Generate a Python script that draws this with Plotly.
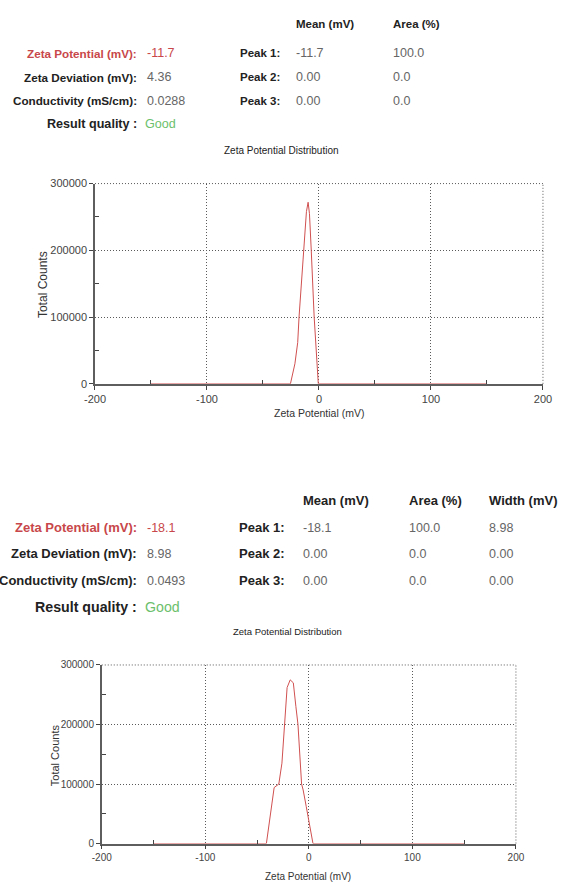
import plotly.graph_objects as go

W, H = 579, 888

# ---------------- data ----------------
# Measurement 1
x1 = [-150, -25.5, -21.5, -19.0, -17.8, -14.0, -11.2, -9.7, -8.5, -6.9, -4.3, -0.6, 150]
y1 = [0, 0, 30000, 62000, 100000, 200000, 258000, 272000, 255000, 200000, 100000, 0, 0]
# Measurement 2
x2 = [-150, -41.0, -33.5, -29.0, -26.0, -21.0, -18.0, -15.0, -12.5, -10.5, -7.0, -5.5, -2.5, 4.0, 150]
y2 = [0, 0, 94000, 100000, 135000, 262000, 275000, 270000, 230000, 200000, 100000, 90000, 62000, 0, 0]

summary1 = {"zeta": "-11.7", "dev": "4.36", "cond": "0.0288"}
summary2 = {"zeta": "-18.1", "dev": "8.98", "cond": "0.0493"}
peak_labels = ["Peak 1:", "Peak 2:", "Peak 3:"]
peak_mean1 = ["-11.7", "0.00", "0.00"]
peak_area1 = ["100.0", "0.0", "0.0"]
peak_mean2 = ["-18.1", "0.00", "0.00"]
peak_area2 = ["100.0", "0.0", "0.0"]
peak_width2 = ["8.98", "0.00", "0.00"]

x_ticks = [-200, -100, 0, 100, 200]
y_ticks = [0, 100000, 200000, 300000]

FONT = "Liberation Sans, Arial, sans-serif"
RED = "#c8474a"
LINE = "#d05050"
GREEN = "#6cbf6c"
GRAY = "#666666"
DARK = "#222222"
GRID = "#5a5a5a"
GDASH = "1px,2px"


def px(x):
    return x / W


def py(y):
    return 1 - y / H


fig = go.Figure()
fig.add_trace(go.Scatter(x=x1, y=y1, mode="lines", line=dict(color=LINE, width=1),
                         xaxis="x", yaxis="y", showlegend=False))
fig.add_trace(go.Scatter(x=x2, y=y2, mode="lines", line=dict(color=LINE, width=1),
                         xaxis="x2", yaxis="y2", showlegend=False))

annots = []


def txt(x, y, s, size, color=DARK, anchor="left", bold=False, angle=0):
    if bold:
        s = "<b>" + s + "</b>"
    annots.append(dict(x=px(x), y=py(y), xref="paper", yref="paper", text=s,
                       showarrow=False, xanchor=anchor, yanchor="middle",
                       textangle=angle,
                       font=dict(family=FONT, size=size, color=color)))


def header(rows, lab_size, val_size, res_size, s, means, areas, widths,
           peak_right, mean_x, area_x, width_x, head_y, hsize):
    labels = [("Zeta Potential (mV):", s["zeta"], RED, RED),
              ("Zeta Deviation (mV):", s["dev"], DARK, GRAY),
              ("Conductivity (mS/cm):", s["cond"], DARK, GRAY)]
    for (lab, val, lc, vc), yy in zip(labels, rows[:3]):
        txt(133, yy, lab, lab_size, lc, "right", bold=True)
        txt(139, yy, val, val_size, vc, "left")
    txt(133, rows[3], "Result quality :", res_size, DARK, "right", bold=True)
    txt(137, rows[3], "Good", res_size, GREEN, "left")
    txt(mean_x, head_y, "Mean (mV)", hsize, DARK, "left", bold=True)
    txt(area_x, head_y, "Area (%)", hsize, DARK, "left", bold=True)
    if widths is not None:
        txt(width_x, head_y, "Width (mV)", hsize, DARK, "left", bold=True)
    for i, yy in enumerate(rows[:3]):
        txt(peak_right, yy, peak_labels[i], hsize, DARK, "right", bold=True)
        txt(mean_x, yy, means[i], val_size, GRAY, "left")
        txt(area_x, yy, areas[i], val_size, GRAY, "left")
        if widths is not None:
            txt(width_x, yy, widths[i], val_size, GRAY, "left")


header([48, 72, 96, 120], 11.7, 12.5, 12.6, summary1, peak_mean1, peak_area1, None,
       281, 293, 394, None, 18, 11.5)
header([529, 555.5, 582.5, 609], 13, 12.5, 14.2, summary2, peak_mean2, peak_area2,
       peak_width2, 286, 300, 410, 493, 501, 13)

# chart titles
txt(280, 146, "Zeta Potential Distribution", 10, DARK, "center")
txt(286, 634, "Zeta Potential Distribution", 9.5, DARK, "center")
# axis titles
txt(33, 282, "Total Counts", 12, "#333", "center", angle=-90)
txt(319, 413, "Zeta Potential (mV)", 10.5, "#333", "center")
txt(45, 759, "Total Counts", 11, "#333", "center", angle=-90)
txt(308, 882, "Zeta Potential (mV)", 10, "#333", "center")


def xax(domain, anchor, fsize):
    return dict(domain=domain, anchor=anchor, range=[-200, 200],
                tickmode="array", tickvals=x_ticks, ticktext=[str(v) for v in x_ticks],
                showgrid=True, gridcolor=GRID, griddash=GDASH, gridwidth=1,
                zeroline=False, showline=True, linecolor="#5e5e5e", linewidth=1.5,
                ticks="outside", ticklen=4, tickcolor="#444",
                minor=dict(tickmode="array", tickvals=[-150, -50, 50, 150], ticks="inside",
                           ticklen=4, tickcolor="#444", showgrid=False),
                tickfont=dict(family=FONT, size=fsize, color="#444"), fixedrange=True)


def yax(domain, anchor, fsize):
    return dict(domain=domain, anchor=anchor, range=[0, 300000],
                tickmode="array", tickvals=y_ticks, ticktext=[str(v) for v in y_ticks],
                showgrid=True, gridcolor=GRID, griddash=GDASH, gridwidth=1,
                zeroline=False, showline=True, linecolor="#5e5e5e", linewidth=1.5,
                ticks="outside", ticklen=4, tickcolor="#444",
                minor=dict(tickmode="array", tickvals=[50000, 150000, 250000], ticks="inside",
                           ticklen=4, tickcolor="#444", showgrid=False),
                tickfont=dict(family=FONT, size=fsize, color="#444"), fixedrange=True)


# dotted frame on the top and right edges of each plot area
shapes = []
for xr, yr in (("x", "y"), ("x2", "y2")):
    shapes.append(dict(type="line", xref=xr + " domain", yref=yr + " domain",
                       x0=1, x1=1, y0=0, y1=1, line=dict(color=GRID, width=1, dash=GDASH)))
    shapes.append(dict(type="line", xref=xr + " domain", yref=yr + " domain",
                       x0=0, x1=1, y0=1, y1=1, line=dict(color=GRID, width=1, dash=GDASH)))

fig.update_layout(
    width=W, height=H, margin=dict(l=0, r=0, t=0, b=0),
    paper_bgcolor="white", plot_bgcolor="white",
    xaxis=xax([px(87), px(551)], "y", 11),
    yaxis=yax([py(383), py(180)], "x", 11),
    xaxis2=xax([px(94), px(523)], "y2", 10),
    yaxis2=yax([py(849), py(668)], "x2", 10),
    annotations=annots,
    shapes=shapes,
    showlegend=False,
)

fig.write_html("out.html")
